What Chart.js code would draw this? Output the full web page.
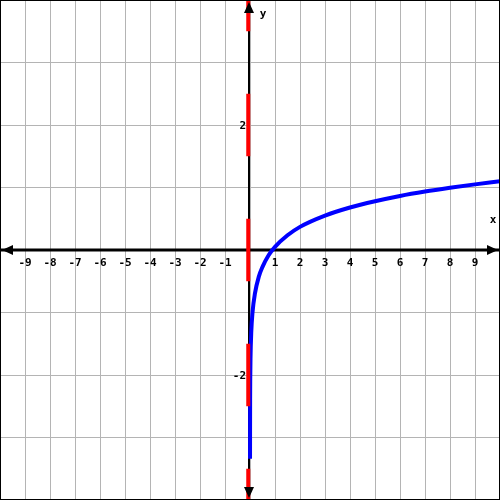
<!DOCTYPE html>
<html>
<head>
<meta charset="utf-8">
<script src="https://cdn.jsdelivr.net/npm/chart.js@4/dist/chart.umd.min.js"></script>
<style>
  html, body { margin: 0; padding: 0; background: #fff; }
  #wrap { width: 500px; height: 500px; }
</style>
</head>
<body>
<div id="wrap"><canvas id="graph" width="500" height="500"></canvas></div>
<script>
// curve y = log-like
const curveX = [0.001, 0.005, 0.01, 0.02, 0.05, 0.1, 0.2, 0.35, 0.5, 0.75, 1, 1.5, 2, 3, 4, 5, 6, 7, 8, 9, 10];
const curveY = [-3.34, -2.37, -2.05, -1.74, -1.32, -1.0, -0.69, -0.43, -0.27, -0.08, 0.05, 0.235, 0.37, 0.55, 0.68, 0.78, 0.865, 0.935, 0.995, 1.05, 1.1];

// vertical asymptote (dashed red)
const asymX = [-0.07, -0.07];
const asymY = [4, -4];

const xTickLabels = [-9, -8, -7, -6, -5, -4, -3, -2, -1, 1, 2, 3, 4, 5, 6, 7, 8, 9];
const yTickLabels = [2, -2];

const xRange = [-10, 10];
const yRange = [-4, 4];

const axesPlugin = {
  id: "axes",
  beforeDatasetsDraw(chart) {
    const ctx = chart.ctx;
    const xs = chart.scales.x, ys = chart.scales.y;
    const x0 = xs.getPixelForValue(0), y0 = ys.getPixelForValue(0);
    ctx.save();
    ctx.strokeStyle = "#000";
    ctx.lineWidth = 3;
    ctx.beginPath();
    ctx.moveTo(xs.left, y0);
    ctx.lineTo(xs.right, y0);
    ctx.stroke();
    ctx.lineWidth = 2;
    ctx.beginPath();
    ctx.moveTo(x0 - 1, ys.top);
    ctx.lineTo(x0 - 1, ys.bottom);
    ctx.stroke();
    ctx.restore();
  },
  afterDatasetsDraw(chart) {
    const ctx = chart.ctx;
    const xs = chart.scales.x, ys = chart.scales.y;
    const x0 = xs.getPixelForValue(0) - 1, y0 = ys.getPixelForValue(0);
    const L = xs.left, R = xs.right, T = ys.top, B = ys.bottom;
    ctx.save();
    ctx.fillStyle = "#000";
    // arrow heads
    const tri = (a, b, c) => {
      ctx.beginPath();
      ctx.moveTo(a[0], a[1]); ctx.lineTo(b[0], b[1]); ctx.lineTo(c[0], c[1]);
      ctx.closePath(); ctx.fill();
    };
    tri([L + 2, y0], [L + 13, y0 - 5], [L + 13, y0 + 5]);
    tri([R - 2, y0], [R - 13, y0 - 5], [R - 13, y0 + 5]);
    tri([x0, T + 2], [x0 - 5, T + 13], [x0 + 5, T + 13]);
    tri([x0, B - 2], [x0 - 5, B - 13], [x0 + 5, B - 13]);

    // tick labels
    ctx.font = "bold 11px 'DejaVu Sans Mono', monospace";
    ctx.textAlign = "center";
    ctx.textBaseline = "middle";
    xTickLabels.forEach((v) => {
      ctx.fillText(String(v), xs.getPixelForValue(v), y0 + 13);
    });
    ctx.textAlign = "right";
    yTickLabels.forEach((v) => {
      ctx.fillText(String(v), x0 - 3, ys.getPixelForValue(v) + 1);
    });
    ctx.textAlign = "center";
    ctx.fillText("x", R - 7, y0 - 30);
    ctx.fillText("y", x0 + 14, T + 14);

    // frame
    ctx.lineWidth = 1;
    ctx.strokeStyle = "#000";
    ctx.strokeRect(L + 0.5, T + 0.5, R - L - 1, B - T - 1);
    ctx.restore();
  }
};

function toPoints(xa, ya) {
  return xa.map((x, i) => ({ x: x, y: ya[i] }));
}

window.onload = function () {
  const ctx = document.getElementById("graph").getContext("2d");
  new Chart(ctx, {
    type: "scatter",
    data: {
      datasets: [
        {
          data: toPoints(asymX, asymY),
          showLine: true,
          borderColor: "#ff0000",
          borderWidth: 4,
          borderDash: [62.5, 62.5],
          borderDashOffset: 31.25,
          pointRadius: 0
        },
        {
          data: toPoints(curveX, curveY),
          showLine: true,
          borderColor: "#0000ff",
          borderWidth: 4,
          cubicInterpolationMode: "monotone",
          pointRadius: 0
        }
      ]
    },
    options: {
      responsive: false,
      animation: false,
      layout: { padding: 0 },
      plugins: { legend: { display: false }, tooltip: { enabled: false } },
      scales: {
        x: {
          type: "linear",
          min: xRange[0],
          max: xRange[1],
          ticks: { display: false, stepSize: 1 },
          grid: { color: "#b4b4b4", lineWidth: 1, drawTicks: false },
          border: { display: false }
        },
        y: {
          type: "linear",
          min: yRange[0],
          max: yRange[1],
          ticks: { display: false, stepSize: 1 },
          grid: { color: "#b4b4b4", lineWidth: 1, drawTicks: false },
          border: { display: false }
        }
      }
    },
    plugins: [axesPlugin]
  });
};
</script>
</body>
</html>
